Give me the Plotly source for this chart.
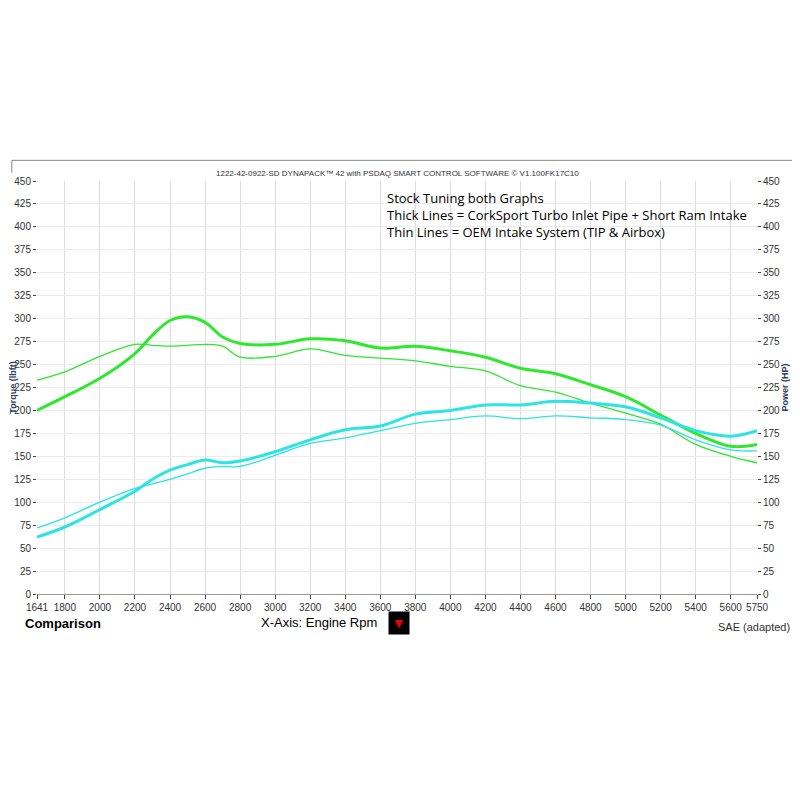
import plotly.graph_objects as go

# rpm stations
rpm = [1641, 1800, 2000, 2200, 2300, 2400, 2500, 2600, 2700, 2800, 3000, 3200, 3400, 3600, 3800,
       4000, 4200, 4400, 4600, 4800, 5000, 5200, 5400, 5600, 5750]

# thick = CorkSport, thin = OEM
tq_cs = [200, 215, 235, 262, 282, 298, 302, 296, 280, 273, 272, 278, 276, 268, 270,
         265, 258, 246, 240, 228, 215, 195, 175, 161, 163]
tq_oem = [233, 242, 259, 272, 271, 270, 271, 272, 270, 258, 259, 267, 260, 257, 254,
          248, 243, 227, 220, 208, 197, 185, 163, 150, 143]
hp_cs = [62, 73, 92, 112, 125, 135, 141, 146, 143, 145, 155, 168, 179, 183, 196,
         200, 206, 206, 210, 208, 204, 192, 178, 172, 178]
hp_oem = [72, 83, 100, 115, 120, 125, 131, 137, 139, 139, 151, 164, 170, 178, 186,
          190, 194, 191, 194, 192, 190, 184, 168, 157, 156]

x_ticks = [1641] + list(range(1800, 5800, 200)) + [5750]
x_ticks = [t for t in x_ticks if t <= 5750]
y_ticks = list(range(0, 475, 25))

green = "#2ee82e"
cyan = "#2de3e3"

fig = go.Figure()
fig.add_trace(go.Scatter(x=rpm, y=tq_oem, mode="lines", line=dict(color=green, width=1.3, shape="spline")))
fig.add_trace(go.Scatter(x=rpm, y=tq_cs, mode="lines", line=dict(color=green, width=3, shape="spline")))
fig.add_trace(go.Scatter(x=rpm, y=hp_oem, mode="lines", line=dict(color=cyan, width=1.3, shape="spline"), yaxis="y2"))
fig.add_trace(go.Scatter(x=rpm, y=hp_cs, mode="lines", line=dict(color=cyan, width=3, shape="spline"), yaxis="y2"))

tick_font = dict(family="Liberation Sans", size=10, color="#333")
fig.update_layout(
    width=800, height=800, showlegend=False,
    paper_bgcolor="white", plot_bgcolor="white",
    margin=dict(l=29, r=51, t=173, b=214),
    xaxis=dict(range=[1641, 5750], tickvals=x_ticks, ticktext=[str(t) for t in x_ticks],
               showgrid=True, gridcolor="#dcdcdc", ticks="outside", ticklen=4, tickfont=tick_font,
               zeroline=False, showline=True, linecolor="#999", automargin=False),
    yaxis=dict(range=[0, 450], tickvals=y_ticks, showgrid=True, gridcolor="#ececec",
               ticks="outside", ticklen=3, tickfont=tick_font, zeroline=False, automargin=False,
               title=dict(text="<b>Torque (lbft)</b>", font=dict(family="Liberation Sans", size=9), standoff=0)),
    yaxis2=dict(range=[0, 450], tickvals=y_ticks, overlaying="y", side="right", showgrid=False,
                ticks="outside", ticklen=3, tickfont=tick_font, zeroline=False, automargin=False,
                title=dict(text="<b>Power (HP)</b>", font=dict(family="Liberation Sans", size=9), standoff=0)),
)

fig.add_shape(type="line", xref="paper", yref="paper", x0=-0.035, x1=1.07, y0=1.05, y1=1.05,
              line=dict(color="#888", width=1))
fig.add_shape(type="line", xref="paper", yref="paper", x0=-0.035, x1=-0.035, y0=1.05, y1=1.02,
              line=dict(color="#888", width=1))
fig.add_annotation(text="1222-42-0922-SD DYNAPACK™ 42 with PSDAQ SMART CONTROL SOFTWARE © V1.100FK17C10",
                   xref="paper", yref="paper", x=0.5, y=1.035, showarrow=False,
                   font=dict(family="Liberation Sans", size=8, color="#333"))
fig.add_annotation(text="Stock Tuning both Graphs<br>Thick Lines = CorkSport Turbo Inlet Pipe + Short Ram Intake<br>Thin Lines = OEM Intake System (TIP & Airbox)",
                   xref="paper", yref="paper", x=0.483, y=0.985, xanchor="left", yanchor="top",
                   align="left", showarrow=False,
                   font=dict(family="Open Sans", size=13, color="black"))
fig.add_annotation(text="<b>Comparison</b>", xref="paper", yref="paper", x=-0.02, y=-0.095,
                   xanchor="left", showarrow=False, font=dict(family="Liberation Sans", size=13, color="black"))
fig.add_annotation(text="X-Axis: Engine Rpm", xref="paper", yref="paper", x=0.475, y=-0.092,
                   xanchor="right", showarrow=False, font=dict(family="Liberation Sans", size=13, color="black"))
fig.add_annotation(text="<span style='color:#e00'>▼</span>", xref="paper", yref="paper", x=0.503, y=-0.1,
                   showarrow=False, bgcolor="black", width=18, height=20,
                   font=dict(family="DejaVu Sans", size=11))
fig.add_annotation(text="SAE (adapted)", xref="paper", yref="paper", x=1.048, y=-0.1,
                   xanchor="right", showarrow=False, font=dict(family="Liberation Sans", size=11, color="#333"))

fig.write_html("out.html")
